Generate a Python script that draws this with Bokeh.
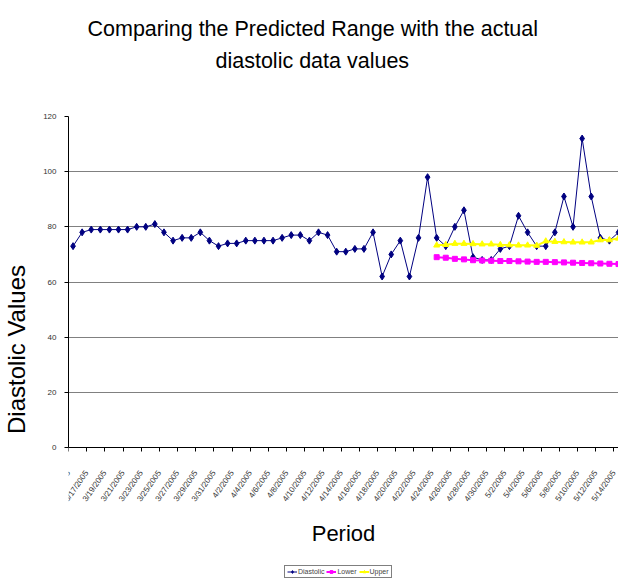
import pandas as pd
from bokeh.plotting import figure
from bokeh.models import (FixedTicker, CustomJSTickFormatter, Legend, LegendItem,
                          Title, Range1d, ColumnDataSource)
from bokeh.embed import file_html
from bokeh.resources import INLINE

# ---- data ----
dates = pd.date_range("2005-03-15", "2005-05-14", freq="D")
date_labels = [f"{d.month}/{d.day}/{d.year}" for d in dates]

diastolic = [73, 78, 79, 79, 79, 79, 79, 80, 80, 81,
             78, 75, 76, 76, 78, 75, 73, 74, 74, 75,
             75, 75, 75, 76, 77, 77, 75, 78, 77, 71,
             71, 72, 72, 78, 62, 70, 75, 62, 76, 98,
             76, 73, 80, 86, 69, 68, 68, 72, 73, 84,
             78, 73, 73, 78, 91, 80, 112, 91, 76, 75,
             78]
# predicted range starts at 4/24 (index 40)
pred_start = 40
lower = [69.0, 68.8, 68.4, 68.2, 67.9, 67.8, 67.7, 67.6, 67.6, 67.5,
         67.4, 67.3, 67.3, 67.2, 67.1, 67.0, 66.9, 66.8, 66.7, 66.6, 66.5]
upper = [73.3, 73.5, 73.9, 73.9, 73.8, 73.7, 73.7, 73.5, 73.4, 73.3,
         73.3, 73.2, 74.8, 74.6, 74.5, 74.4, 74.4, 74.4, 75.2, 75.2, 75.8]

y_ticks = [0, 20, 40, 60, 80, 100, 120]

idx = list(range(len(diastolic)))
pred_idx = list(range(pred_start, pred_start + len(lower)))

src_d = ColumnDataSource(dict(x=idx, y=diastolic))
src_p = ColumnDataSource(dict(x=pred_idx, lo=lower, up=upper))

FONT = "Liberation Sans"

# layout: the value axis (0..120) occupies 331 px; the frame extends further
# down so that the x axis (fixed at 0) and the legend sit inside it
PLOT_PX = 331
FRAME_PX = 466
Y_MAX = 120
y_start = Y_MAX - FRAME_PX * Y_MAX / PLOT_PX

p = figure(frame_width=550, frame_height=FRAME_PX,
           x_range=Range1d(-0.5, 60.0), y_range=Range1d(y_start, Y_MAX),
           output_backend="svg", toolbar_location=None,
           min_border_left=60, min_border_right=0, min_border_top=0,
           min_border_bottom=0, background_fill_color="white",
           border_fill_color="white")
p.outline_line_color = None

# titles (stack from plot upward: spacer, line 2, line 1, top spacer)
spacer = Title(text=" ", text_font_size="1px", standoff=37)
p.add_layout(spacer, "above")
t2 = Title(text="diastolic data values", text_font=FONT, text_font_size="21.5px",
           text_font_style="normal", align="left", offset=147, standoff=7,
           text_color="black")
p.add_layout(t2, "above")
t1 = Title(text="Comparing the Predicted Range with the actual", text_font=FONT,
           text_font_size="21.5px", text_font_style="normal", align="left",
           offset=19, standoff=5, text_color="black")
p.add_layout(t1, "above")
p.title.text = " "
p.title.text_font_size = "1px"
p.title.standoff = 9

# grid
p.xgrid.grid_line_color = None
p.ygrid.grid_line_color = "#808080"
p.ygrid.grid_line_width = 1
p.ygrid.ticker = FixedTicker(ticks=y_ticks)

# y axis
p.yaxis.ticker = FixedTicker(ticks=y_ticks)
p.yaxis.bounds = (0, Y_MAX)
p.yaxis.axis_label = "Diastolic Values"
p.yaxis.axis_label_text_font = FONT
p.yaxis.axis_label_text_font_size = "24px"
p.yaxis.axis_label_text_font_style = "normal"
p.yaxis.axis_label_text_color = "black"
p.yaxis.axis_label_standoff = 10
p.yaxis.major_label_text_font = FONT
p.yaxis.major_label_text_font_size = "8px"
p.yaxis.major_label_text_color = "#333333"
p.yaxis.major_label_standoff = 8
p.yaxis.major_tick_out = 4
p.yaxis.major_tick_in = 0
p.yaxis.minor_tick_line_color = None
p.yaxis.axis_line_color = "black"
p.yaxis.major_tick_line_color = "black"

# x axis (drawn at value 0)
p.xaxis.fixed_location = 0
p.xaxis.ticker = FixedTicker(ticks=[i - 0.5 for i in range(0, len(date_labels), 2)])
p.xaxis.formatter = CustomJSTickFormatter(args=dict(labels=date_labels), code="""
    const i = Math.round(tick + 0.5);
    return (i >= 0 && i < labels.length) ? labels[i] : '';
""")
p.xaxis.major_label_orientation = 0.96
p.xaxis.major_label_text_font = FONT
p.xaxis.major_label_text_font_size = "8px"
p.xaxis.major_label_text_color = "#333333"
p.xaxis.major_label_standoff = 20
p.xaxis.major_tick_out = 4
p.xaxis.major_tick_in = 0
p.xaxis.minor_tick_line_color = None
p.xaxis.axis_line_color = "black"
p.xaxis.major_tick_line_color = "black"
p.xaxis.axis_label = "Period"
p.xaxis.axis_label_text_font = FONT
p.xaxis.axis_label_text_font_size = "22px"
p.xaxis.axis_label_text_font_style = "normal"
p.xaxis.axis_label_text_color = "black"
p.xaxis.axis_label_standoff = 12

# series
dl = p.line("x", "y", source=src_d, line_color="#000080", line_width=1)
dm = p.scatter("x", "y", source=src_d, marker="diamond", size=7,
               fill_color="#000080", line_color="#000080")
ll = p.line("x", "lo", source=src_p, line_color="#FF00FF", line_width=2)
lm = p.scatter("x", "lo", source=src_p, marker="square", size=5,
               fill_color="#FF00FF", line_color="#FF00FF")
ul = p.line("x", "up", source=src_p, line_color="#FFFF00", line_width=2)
um = p.scatter("x", "up", source=src_p, marker="triangle", size=6,
               fill_color="#FFFF00", line_color="#FFFF00")

legend = Legend(items=[LegendItem(label="Diastolic", renderers=[dl, dm]),
                       LegendItem(label="Lower", renderers=[ll, lm]),
                       LegendItem(label="Upper", renderers=[ul, um])],
                orientation="horizontal", location=(216, 4),
                label_text_font=FONT, label_text_font_size="7px",
                glyph_width=10, glyph_height=7, label_height=7, label_width=10,
                label_standoff=1, spacing=2, padding=2, margin=0,
                border_line_color="black", border_line_width=1,
                background_fill_color="white")
p.add_layout(legend, "center")

open("out.html", "w").write(file_html(p, INLINE))
